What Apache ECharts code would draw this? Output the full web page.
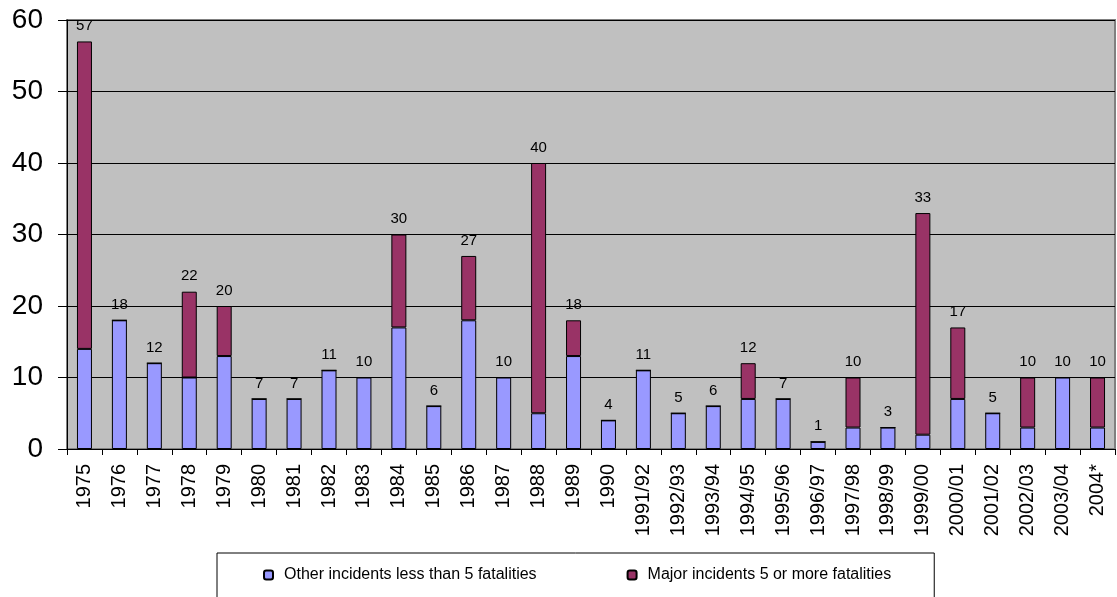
<!DOCTYPE html>
<html>
<head>
<meta charset="utf-8">
<script src="https://cdn.jsdelivr.net/npm/echarts@6/dist/echarts.min.js"></script>
<style>
  html, body { margin: 0; padding: 0; background: #fff; }
  #chart { width: 1117px; height: 597px; }
</style>
</head>
<body>
<div id="chart"></div>
<script>
// Incident counts per year / season
const categories = ['1975','1976','1977','1978','1979','1980','1981','1982','1983','1984',
  '1985','1986','1987','1988','1989','1990','1991/92','1992/93','1993/94','1994/95',
  '1995/96','1996/97','1997/98','1998/99','1999/00','2000/01','2001/02','2002/03','2003/04','2004*'];

// Other incidents (less than 5 fatalities)
const otherIncidents = [14, 18, 12, 10, 13, 7, 7, 11, 10, 17,
  6, 18, 10, 5, 13, 4, 11, 5, 6, 7,
  7, 1, 3, 3, 2, 7, 5, 3, 10, 3];

// Major incidents (5 or more fatalities)
const majorIncidents = [43, 0, 0, 12, 7, 0, 0, 0, 0, 13,
  0, 9, 0, 35, 5, 0, 0, 0, 0, 5,
  0, 0, 7, 0, 31, 10, 0, 7, 0, 7];

const yTicks = { min: 0, max: 60, interval: 10 };

const totals = otherIncidents.map((v, i) => v + majorIncidents[i]);

const font = 'Arial, "Liberation Sans", sans-serif';

const chart = echarts.init(document.getElementById('chart'), null, { renderer: 'canvas' });

chart.setOption({
  animation: false,
  textStyle: { fontFamily: font, color: '#000' },
  grid: {
    left: 67, right: 2, top: 20, bottom: 148,
    show: true, backgroundColor: '#C0C0C0', borderColor: '#808080', borderWidth: 2
  },
  legend: {
    data: ['Other incidents less than 5 fatalities', 'Major incidents 5 or more fatalities'],
    left: 217, top: 553,
    padding: [14, 43, 40, 46],
    itemGap: 90,
    itemWidth: 9, itemHeight: 9,
    borderColor: '#000', borderWidth: 1,
    backgroundColor: '#fff',
    textStyle: { fontFamily: font, fontSize: 16, color: '#000', padding: [0, 0, 0, 6] }
  },
  xAxis: {
    type: 'category',
    data: categories,
    boundaryGap: true,
    axisLine: { lineStyle: { color: '#000', width: 1 } },
    axisTick: { show: true, length: 6, lineStyle: { color: '#000' } },
    axisLabel: { rotate: 90, fontSize: 20, color: '#000', margin: 15, fontFamily: font, interval: 0 }
  },
  yAxis: {
    type: 'value',
    min: yTicks.min, max: yTicks.max, interval: yTicks.interval,
    axisLine: { show: true, lineStyle: { color: '#000', width: 1 } },
    axisTick: { show: true, length: 9, lineStyle: { color: '#000' } },
    axisLabel: { fontSize: 28, color: '#000', margin: 24, fontFamily: font },
    splitLine: { show: true, lineStyle: { color: '#000', width: 1 } }
  },
  series: [
    {
      name: 'Other incidents less than 5 fatalities',
      type: 'bar', stack: 'incidents',
      data: otherIncidents,
      barWidth: 15,
      itemStyle: { color: '#9999FF', borderColor: '#000', borderWidth: 1 }
    },
    {
      name: 'Major incidents 5 or more fatalities',
      type: 'bar', stack: 'incidents',
      data: majorIncidents,
      barWidth: 15,
      itemStyle: { color: '#993366', borderColor: '#000', borderWidth: 1 }
    },
    {
      // zero-height cap carrying the total label above each stack
      name: 'total',
      type: 'bar', stack: 'incidents',
      data: totals.map(() => 0),
      barWidth: 15,
      itemStyle: { color: 'transparent', borderWidth: 0 },
      label: {
        show: true, position: 'top', distance: 8,
        fontSize: 15, color: '#000', fontFamily: font,
        formatter: p => String(totals[p.dataIndex])
      },
      tooltip: { show: false }
    }
  ]
});
</script>
</body>
</html>
